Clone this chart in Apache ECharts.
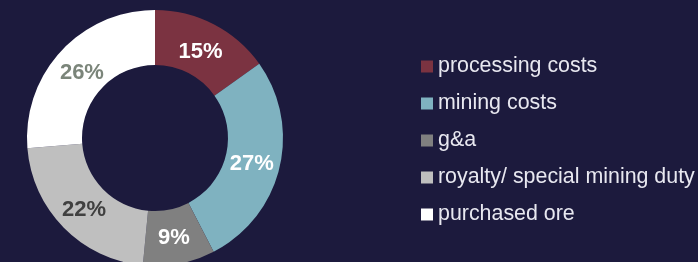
<!DOCTYPE html>
<html>
<head>
<meta charset="utf-8">
<script src="https://cdn.jsdelivr.net/npm/echarts@6/dist/echarts.min.js"></script>
<style>
html,body{margin:0;padding:0;background:#1c1a3d;}
#c{width:698px;height:262px;}
</style>
</head>
<body>
<div id="c"></div>
<script>
var categories = ['processing costs', 'mining costs', 'g&a', 'royalty/ special mining duty', 'purchased ore'];
var values = [15, 27, 9, 22, 26];
var sliceColors = ['#7b3341', '#7fb2c0', '#808080', '#bfbfbf', '#ffffff'];
var labelColors = ['#ffffff', '#ffffff', '#ffffff', '#404040', '#7b857a'];

var CX = 155, CY = 138;
var chart = echarts.init(document.getElementById('c'));
chart.setOption({
  backgroundColor: '#1c1a3d',
  animation: false,
  legend: {
    orient: 'vertical',
    left: 416,
    top: 51,
    itemWidth: 12,
    itemHeight: 12,
    itemGap: 16,
    icon: 'rect',
    textStyle: {
      color: '#e8e8f0',
      fontFamily: 'Liberation Sans, Arial, sans-serif',
      fontSize: 21.4,
      lineHeight: 21
    },
    data: categories
  },
  series: [{
    type: 'pie',
    center: [CX, CY],
    radius: [73, 128],
    startAngle: 90,
    clockwise: true,
    avoidLabelOverlap: false,
    label: {
      show: true,
      position: 'inside',
      formatter: function (p) { return values[p.dataIndex] + '%'; },
      fontFamily: 'Liberation Sans, Arial, sans-serif',
      fontWeight: 'bold',
      fontSize: 22
    },
    labelLayout: function (p) {
      var r = p.labelRect;
      var lx = r.x + r.width / 2, ly = r.y + r.height / 2;
      var dx = lx - CX, dy = ly - CY;
      var d = Math.sqrt(dx * dx + dy * dy);
      var k = (d - 4) / d;
      return { x: CX + dx * k, y: CY + dy * k + 2, align: 'center', verticalAlign: 'middle' };
    },
    labelLine: { show: false },
    data: categories.map(function (name, i) {
      return {
        name: name,
        value: values[i],
        itemStyle: { color: sliceColors[i] },
        label: { color: labelColors[i] }
      };
    })
  }]
});
</script>
</body>
</html>
